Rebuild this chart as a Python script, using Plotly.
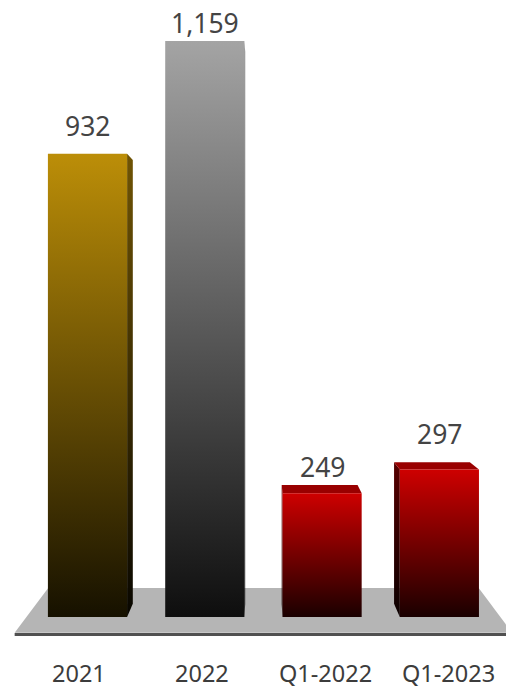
import plotly.graph_objects as go

# ---- data -------------------------------------------------------------
categories = ["2021", "2022", "Q1-2022", "Q1-2023"]
values = [932, 1159, 249, 297]

# ---- styling ----------------------------------------------------------
# per bar: front gradient (bottom, top), side gradient (bottom, top), top face
palettes = [
    dict(front=("rgb(22,17,0)", "rgb(188,142,8)"),
         side=("rgb(8,6,0)", "rgb(112,84,4)"), top="rgb(150,112,6)"),
    dict(front=("rgb(14,14,14)", "rgb(164,164,164)"),
         side=("rgb(5,5,5)", "rgb(100,100,100)"), top="rgb(130,130,130)"),
    dict(front=("rgb(26,0,0)", "rgb(206,0,0)"),
         side=("rgb(10,0,0)", "rgb(84,0,0)"), top="rgb(153,0,0)"),
    dict(front=("rgb(26,0,0)", "rgb(206,0,0)"),
         side=("rgb(10,0,0)", "rgb(84,0,0)"), top="rgb(153,0,0)"),
]
label_gap_px = [28, 18, 26, 35]   # distance of value label centre above bar top

FONT = "Noto Sans"
BAR_W = 0.675          # bar width in category units
VX, VY = 1.5, 638.0    # vanishing point (category units, value units)
BAR_DEPTH = 0.958      # scale of bar back faces
FLOOR_FRONT, FLOOR_BACK = 1.05, 0.9085
FLOOR_X = (-0.52, 3.52)
X_RANGE = [-0.746, 3.568]
Y_RANGE = [-146.9, 1241.4]
PX_PER_UNIT = 690 / (Y_RANGE[1] - Y_RANGE[0])


def proj(x, y, s):
    """Project a point of the front plane onto a plane at depth scale s."""
    return VX + (x - VX) * s, VY + (y - VY) * s


def poly(points, **kw):
    xs = [p[0] for p in points] + [points[0][0]]
    ys = [p[1] for p in points] + [points[0][1]]
    return go.Scatter(x=xs, y=ys, mode="lines", fill="toself",
                      line=dict(width=0), hoverinfo="skip",
                      showlegend=False, **kw)


def vgrad(lo, hi, y0, y1):
    return dict(type="vertical", start=y0, stop=y1,
                colorscale=[[0, lo], [1, hi]])


fig = go.Figure()

# floor platform
fl, fr = FLOOR_X
floor = [proj(fl, 0, FLOOR_FRONT), proj(fr, 0, FLOOR_FRONT),
         proj(fr, 0, FLOOR_BACK), proj(fl, 0, FLOOR_BACK)]
fig.add_trace(poly(floor, fillcolor="rgb(181,181,181)"))
edge_y = floor[0][1] - 3.2
fig.add_trace(go.Scatter(x=[floor[0][0], floor[1][0]], y=[edge_y, edge_y],
                         mode="lines", line=dict(color="rgb(80,80,80)", width=3),
                         hoverinfo="skip", showlegend=False))

# bars as perspective boxes
for i, (v, pal) in enumerate(zip(values, palettes)):
    x0, x1 = i - BAR_W / 2, i + BAR_W / 2
    if x1 < VX:   # right side face visible
        side = [(x1, 0), (x1, v), proj(x1, v, BAR_DEPTH), proj(x1, 0, BAR_DEPTH)]
        fig.add_trace(poly(side, fillgradient=vgrad(*pal["side"], 0, v)))
    if x0 > VX:   # left side face visible
        side = [(x0, 0), (x0, v), proj(x0, v, BAR_DEPTH), proj(x0, 0, BAR_DEPTH)]
        fig.add_trace(poly(side, fillgradient=vgrad(*pal["side"], 0, v)))
    if v < VY:    # top face visible
        top = [(x0, v), (x1, v), proj(x1, v, BAR_DEPTH), proj(x0, v, BAR_DEPTH)]
        fig.add_trace(poly(top, fillcolor=pal["top"]))
    front = [(x0, 0), (x1, 0), (x1, v), (x0, v)]
    fig.add_trace(poly(front, fillgradient=vgrad(*pal["front"], 0, v)))

    # value label
    fig.add_annotation(x=i, y=v + label_gap_px[i] / PX_PER_UNIT,
                       text=f"{v:,}", showarrow=False,
                       xanchor="center", yanchor="middle",
                       font=dict(family=FONT, size=26.5, color="rgb(68,68,68)"))

# category labels along the front of the floor
label_y = -112.7
for i, cat in enumerate(categories):
    lx, _ = proj(i, 0, FLOOR_FRONT)
    fig.add_annotation(x=lx, y=label_y, text=cat, showarrow=False,
                       xanchor="center", yanchor="middle",
                       font=dict(family=FONT, size=23.5, color="rgb(60,60,60)"))

fig.update_layout(
    width=506, height=690, autosize=False,
    margin=dict(l=0, r=0, t=0, b=0),
    paper_bgcolor="white", plot_bgcolor="white",
    xaxis=dict(range=X_RANGE, visible=False, fixedrange=True),
    yaxis=dict(range=Y_RANGE, visible=False, fixedrange=True),
    showlegend=False,
)

fig.write_html("out.html")
